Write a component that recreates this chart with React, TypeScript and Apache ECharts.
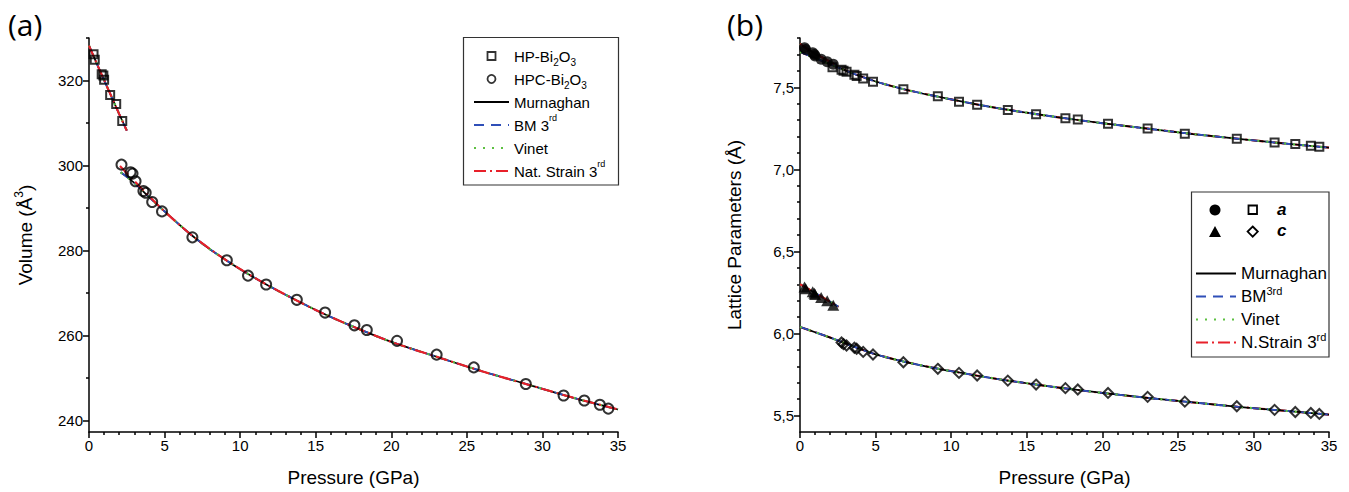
import React, { useEffect, useRef } from 'react';
import * as echarts from 'echarts';

// ---------- data ----------
// HP-Bi2O3 phase (low pressure)
const hpPressure = [0.3, 0.38, 0.84, 0.95, 1.0, 1.4, 1.8, 2.2];
const hpVolume = [326.2, 324.9, 321.5, 321.2, 320.2, 316.6, 314.5, 310.5];
const hpA = [7.74, 7.73, 7.71, 7.7, 7.69, 7.67, 7.655, 7.64];
const hpC = [6.284, 6.272, 6.255, 6.245, 6.238, 6.22, 6.2, 6.172];

// HPC-Bi2O3 phase
const hpcPressure = [2.15, 2.75, 2.88, 3.08, 3.6, 3.75, 4.18, 4.83, 6.84, 9.12, 10.52, 11.72, 13.75, 15.62, 17.56, 18.38, 20.38, 23.0, 25.46, 28.9, 31.4, 32.77, 33.8, 34.36];
const hpcVolume = [300.2, 298.4, 298.1, 296.3, 294.0, 293.6, 291.4, 289.2, 283.1, 277.7, 274.1, 272.0, 268.4, 265.4, 262.4, 261.3, 258.75, 255.5, 252.5, 248.6, 245.9, 244.7, 243.7, 242.8];
const hpcA = [7.622, 7.607, 7.6, 7.594, 7.576, 7.568, 7.553, 7.533, 7.488, 7.445, 7.411, 7.394, 7.362, 7.335, 7.311, 7.303, 7.278, 7.248, 7.217, 7.187, 7.163, 7.154, 7.144, 7.138];
const hpcCPressure = [2.75, 2.88, 3.08, 3.6, 3.75, 4.18, 4.83, 6.84, 9.12, 10.52, 11.72, 13.75, 15.62, 17.56, 18.38, 20.38, 23.0, 25.46, 28.9, 31.4, 32.77, 33.8, 34.36];
const hpcC = [5.945, 5.935, 5.927, 5.913, 5.907, 5.888, 5.872, 5.825, 5.785, 5.76, 5.744, 5.713, 5.689, 5.667, 5.659, 5.638, 5.614, 5.585, 5.557, 5.535, 5.522, 5.516, 5.51];

// EOS fit curves
const fitHpP = [0, 0.5, 1, 1.5, 2, 2.5];
const fitHpV = [328.2, 324.1, 320.1, 316.1, 312.1, 308.2];
const fitHpcP = [2.1, 3, 4, 5, 6, 7, 8, 9, 10, 11, 12, 13, 15, 17, 20, 23, 26, 29, 32, 35];
const fitHpcV = [298.4, 295.9, 292.5, 289.2, 286.0, 283.0, 280.3, 277.9, 275.6, 273.5, 271.5, 269.6, 266.0, 262.8, 258.5, 255.0, 251.6, 248.5, 245.4, 242.6];
const fitHpcNatP = [2.05, 2.5, 3, 4, 5, 6, 7, 9, 11, 13, 15, 17, 20, 23, 26, 29, 32, 35];
const fitHpcNatV = [299.9, 298.2, 296.4, 292.7, 289.2, 286.0, 283.0, 277.9, 273.5, 269.6, 266.0, 262.8, 258.5, 255.0, 251.6, 248.5, 245.4, 242.6];

const fitAHpP = [0, 0.5, 1, 1.5, 2, 2.4];
const fitAHp = [7.765, 7.733, 7.705, 7.68, 7.655, 7.635];
const fitCHpP = [0, 0.5, 1, 1.5, 2, 2.55];
const fitCHp = [6.3, 6.274, 6.247, 6.22, 6.193, 6.163];
const fitHpcLatP = [0, 1, 2, 3, 4, 5, 7, 9, 11, 13, 15, 17, 20, 23, 26, 29, 32, 35];
const fitAHpc = [7.715, 7.678, 7.64, 7.603, 7.567, 7.535, 7.485, 7.445, 7.408, 7.374, 7.345, 7.318, 7.281, 7.248, 7.215, 7.186, 7.158, 7.132];
const fitCHpc = [6.04, 6.008, 5.975, 5.94, 5.905, 5.873, 5.826, 5.788, 5.755, 5.724, 5.697, 5.672, 5.638, 5.608, 5.58, 5.553, 5.53, 5.506];

// tick values
const leftMajorTicks = [240, 260, 280, 300, 320];
const leftMinorTicks = [250, 270, 290, 310, 330];
const rightMajorTicks = [5.5, 6.0, 6.5, 7.0, 7.5];
const rightMinorTicks = [5.6, 5.7, 5.8, 5.9, 6.1, 6.2, 6.3, 6.4, 6.6, 6.7, 6.8, 6.9, 7.1, 7.2, 7.3, 7.4, 7.6, 7.7, 7.8];

const leftModelNames = ['Murnaghan', 'BM 3rd', 'Vinet', 'Nat. Strain 3rd'];
const rightModelNames = ['Murnaghan', 'BM3rd', 'Vinet', 'N.Strain 3rd'];

const FONT = '"Liberation Sans", Arial, Helvetica, sans-serif';

const zip = (xs: number[], ys: number[]) => xs.map((x, i) => [x, ys[i]]);

const modelStyles = [
  { color: '#000000', type: 'solid' as any, width: 1.7 },
  { color: '#2f4fb8', type: [10, 7] as any, width: 1.9 },
  { color: '#5cc040', type: [2, 7] as any, width: 2.2 },
  { color: '#e8202a', type: [12, 4, 2, 4] as any, width: 2.1 },
];

const leftLegendLabels: Record<string, string> = {
  'HP-Bi2O3': '{t|HP-Bi}{b|2}{t|O}{b|3}',
  'HPC-Bi2O3': '{t|HPC-Bi}{b|2}{t|O}{b|3}',
  Murnaghan: '{t|Murnaghan}',
  'BM 3rd': '{t|BM 3}{p|rd}',
  Vinet: '{t|Vinet}',
  'Nat. Strain 3rd': '{t|Nat. Strain 3}{p|rd}',
};
const rightLegendLabels: Record<string, string> = {
  Murnaghan: '{t|Murnaghan}',
  BM3rd: '{t|BM}{p|3rd}',
  Vinet: '{t|Vinet}',
  'N.Strain 3rd': '{t|N.Strain 3}{p|rd}',
};

function richStyles(size: number, lh: number) {
  return {
    t: { fontSize: size, lineHeight: lh, fontFamily: FONT, color: '#000' },
    b: { fontSize: Math.round(size * 0.68), lineHeight: Math.round(size * 0.8), verticalAlign: 'bottom', fontFamily: FONT, color: '#000' },
    p: { fontSize: Math.round(size * 0.62), lineHeight: Math.round(size * 0.75), verticalAlign: 'top', fontFamily: FONT, color: '#000' },
  };
}

const axisLineStyle = { color: '#000', width: 1.5 };
const hiddenSymbol = { color: 'rgba(0,0,0,0)', borderWidth: 0, opacity: 0 };
const hollowIcon = { color: 'rgba(0,0,0,0)', borderColor: '#000', borderWidth: 1.8 };

function buildOption(): any {
  const series: any[] = [];

  // Left panel fits
  leftModelNames.forEach((name, i) => {
    const st = modelStyles[i];
    const base = {
      type: 'line', name, xAxisIndex: 0, yAxisIndex: 0, symbol: 'none', smooth: 0.3, silent: true,
      lineStyle: { color: st.color, width: st.width, type: st.type }, itemStyle: { color: st.color }, z: 2 + i,
    };
    series.push({ ...base, data: zip(fitHpP, fitHpV) });
    series.push({ ...base, data: i === 3 ? zip(fitHpcNatP, fitHpcNatV) : zip(fitHpcP, fitHpcV) });
  });

  // Right panel fits
  rightModelNames.forEach((name, i) => {
    const st = modelStyles[i];
    const base = {
      type: 'line', name, xAxisIndex: 1, yAxisIndex: 2, symbol: 'none', smooth: 0.3, silent: true,
      lineStyle: { color: st.color, width: st.width, type: st.type }, itemStyle: { color: st.color },
    };
    const hpcZ = i === 3 ? 1 : 2 + i;
    series.push({ ...base, z: 2 + i, data: zip(fitAHpP, fitAHp) });
    series.push({ ...base, z: 2 + i, data: zip(fitCHpP, fitCHp) });
    series.push({ ...base, z: hpcZ, data: zip(fitHpcLatP, fitAHpc) });
    series.push({ ...base, z: hpcZ, data: zip(fitHpcLatP, fitCHpc) });
  });

  const hollow = { color: 'rgba(0,0,0,0)', borderColor: '#000', borderWidth: 2 };

  series.push({ type: 'scatter', name: 'HP-Bi2O3', xAxisIndex: 0, yAxisIndex: 0, symbol: 'rect', symbolSize: 8, itemStyle: hollow, data: zip(hpPressure, hpVolume), z: 10, silent: true });
  series.push({ type: 'scatter', name: 'HPC-Bi2O3', xAxisIndex: 0, yAxisIndex: 0, symbol: 'circle', symbolSize: 10, itemStyle: hollow, data: zip(hpcPressure, hpcVolume), z: 10, silent: true });
  series.push({ type: 'scatter', name: 'a (HP)', xAxisIndex: 1, yAxisIndex: 2, symbol: 'circle', symbolSize: 11, itemStyle: { color: '#000' }, data: zip(hpPressure, hpA), z: 10, silent: true });
  series.push({ type: 'scatter', name: 'a (HPC)', xAxisIndex: 1, yAxisIndex: 2, symbol: 'rect', symbolSize: 8, itemStyle: hollow, data: zip(hpcPressure, hpcA), z: 10, silent: true });
  series.push({ type: 'scatter', name: 'c (HP)', xAxisIndex: 1, yAxisIndex: 2, symbol: 'triangle', symbolSize: [12, 11], itemStyle: { color: '#000' }, data: zip(hpPressure, hpC), z: 10, silent: true });
  series.push({ type: 'scatter', name: 'c (HPC)', xAxisIndex: 1, yAxisIndex: 2, symbol: 'diamond', symbolSize: [10, 10], itemStyle: hollow, data: zip(hpcCPressure, hpcC), z: 10, silent: true });

  const xAxisCommon = (gridIndex: number) => ({
    type: 'value', gridIndex, min: 0, max: 35, interval: 5,
    axisLine: { show: true, onZero: false, lineStyle: axisLineStyle },
    axisTick: { show: true, inside: false, length: 6, lineStyle: axisLineStyle },
    minorTick: { show: true, splitNumber: 5, length: 3, lineStyle: axisLineStyle },
    axisLabel: { color: '#000', fontSize: 15, fontFamily: FONT, margin: 6 },
    splitLine: { show: false },
    minorSplitLine: { show: false },
    name: 'Pressure (GPa)', nameLocation: 'middle', nameGap: 36,
    nameTextStyle: { color: '#000', fontSize: 19, fontFamily: FONT },
  });

  const yMain = (gridIndex: number, min: number, max: number, ticks: number[], fmt: (v: number) => string, name: string, nameGap: number) => ({
    type: 'value', gridIndex, min, max, position: 'left', offset: 0,
    axisLine: { show: true, onZero: false, lineStyle: axisLineStyle },
    axisTick: { show: true, inside: false, length: 6, lineStyle: axisLineStyle, customValues: ticks },
    axisLabel: { color: '#000', fontSize: 15, fontFamily: FONT, margin: 6, customValues: ticks, formatter: fmt },
    splitLine: { show: false },
    name, nameLocation: 'middle', nameGap,
    nameTextStyle: {
      color: '#000', fontSize: 19, fontFamily: FONT,
      rich: {
        n: { fontSize: 19, fontFamily: FONT, color: '#000', lineHeight: 24 },
        s: { fontSize: 12, fontFamily: FONT, color: '#000', lineHeight: 12, verticalAlign: 'top' },
      },
    },
  });

  const yMinor = (gridIndex: number, min: number, max: number, ticks: number[]) => ({
    type: 'value', gridIndex, min, max, position: 'left', offset: 0,
    axisLine: { show: false, onZero: false },
    axisTick: { show: true, inside: false, length: 3, lineStyle: axisLineStyle, customValues: ticks },
    axisLabel: { show: false },
    splitLine: { show: false },
  });

  const lineItem = (name: string) => ({ name, itemStyle: hiddenSymbol });

  return {
    animation: false,
    backgroundColor: '#ffffff',
    grid: [
      { left: 89, top: 38, width: 529, height: 394.5, containLabel: false },
      { left: 800, top: 38, width: 529, height: 394.5, containLabel: false },
    ],
    xAxis: [xAxisCommon(0), xAxisCommon(1)],
    yAxis: [
      yMain(0, 237.3, 330, leftMajorTicks, (v: number) => String(Math.round(v)), '{n|Volume (Å}{s|3}{n|)}', 52),
      yMinor(0, 237.3, 330, leftMinorTicks),
      yMain(1, 5.4, 7.8, rightMajorTicks, (v: number) => v.toFixed(1).replace('.', ','), '{n|Lattice Parameters (Å)}', 54),
      yMinor(1, 5.4, 7.8, rightMinorTicks),
    ],
    legend: [
      {
        orient: 'vertical', left: 473, top: 44.5, itemWidth: 35, itemHeight: 8, itemGap: 0, padding: 0,
        selectedMode: false, symbolKeepAspect: true,
        data: [
          { name: 'HP-Bi2O3', icon: 'path://M0,0L10,0L10,10L0,10Z', itemStyle: hollowIcon },
          { name: 'HPC-Bi2O3', icon: 'circle', itemStyle: hollowIcon },
          ...leftModelNames.map(lineItem),
        ],
        formatter: (name: string) => leftLegendLabels[name] || name,
        textStyle: { color: '#000', fontSize: 15, fontFamily: FONT, lineHeight: 23, rich: richStyles(15, 23) },
      },
      {
        orient: 'vertical', left: 1195, top: 262, itemWidth: 40, itemHeight: 8, itemGap: 0, padding: 0,
        selectedMode: false,
        data: rightModelNames.map(lineItem),
        formatter: (name: string) => rightLegendLabels[name] || name,
        textStyle: { color: '#000', fontSize: 17, fontFamily: FONT, lineHeight: 23, rich: richStyles(17, 23) },
      },
    ],
    graphic: [
      { type: 'text', left: 8, top: 9, style: { text: '(a)', font: '30px "Open Sans", "Noto Sans", sans-serif', fill: '#000' } },
      { type: 'text', left: 727, top: 9, style: { text: '(b)', font: '30px "Open Sans", "Noto Sans", sans-serif', fill: '#000' } },
      { type: 'rect', shape: { x: 463.5, y: 37.5, width: 155, height: 147.5 }, style: { fill: 'none', stroke: '#333', lineWidth: 1.2 }, z: 20 },
      { type: 'rect', shape: { x: 1191.5, y: 192, width: 137.5, height: 165 }, style: { fill: 'none', stroke: '#333', lineWidth: 1.2 }, z: 20 },
      { type: 'circle', shape: { cx: 1215, cy: 210, r: 5.5 }, style: { fill: '#000' }, z: 20 },
      { type: 'rect', shape: { x: 1248.5, y: 205.5, width: 8.5, height: 8.5 }, style: { fill: 'none', stroke: '#000', lineWidth: 1.8 }, z: 20 },
      { type: 'polygon', shape: { points: [[1209, 237], [1221, 237], [1215, 226]] }, style: { fill: '#000' }, z: 20 },
      { type: 'polygon', shape: { points: [[1252.7, 226.5], [1257.8, 231.6], [1252.7, 236.7], [1247.6, 231.6]] }, style: { fill: 'none', stroke: '#000', lineWidth: 1.8 }, z: 20 },
      { type: 'text', left: 1277, top: 201, style: { text: 'a', font: 'italic bold 17px "Liberation Sans", Arial, sans-serif', fill: '#000' }, z: 20 },
      { type: 'text', left: 1277, top: 222, style: { text: 'c', font: 'italic bold 17px "Liberation Sans", Arial, sans-serif', fill: '#000' }, z: 20 },
    ],
    series,
  };
}

export default function App() {
  const ref = useRef<HTMLDivElement>(null);
  useEffect(() => {
    if (!ref.current) return;
    const chart = echarts.init(ref.current, undefined, { renderer: 'svg' });
    chart.setOption(buildOption());
    return () => chart.dispose();
  }, []);
  return (
    <div
      ref={ref}
      style={{ position: 'fixed', left: 0, top: 0, width: 1349, height: 492, background: '#fff' }}
    />
  );
}
